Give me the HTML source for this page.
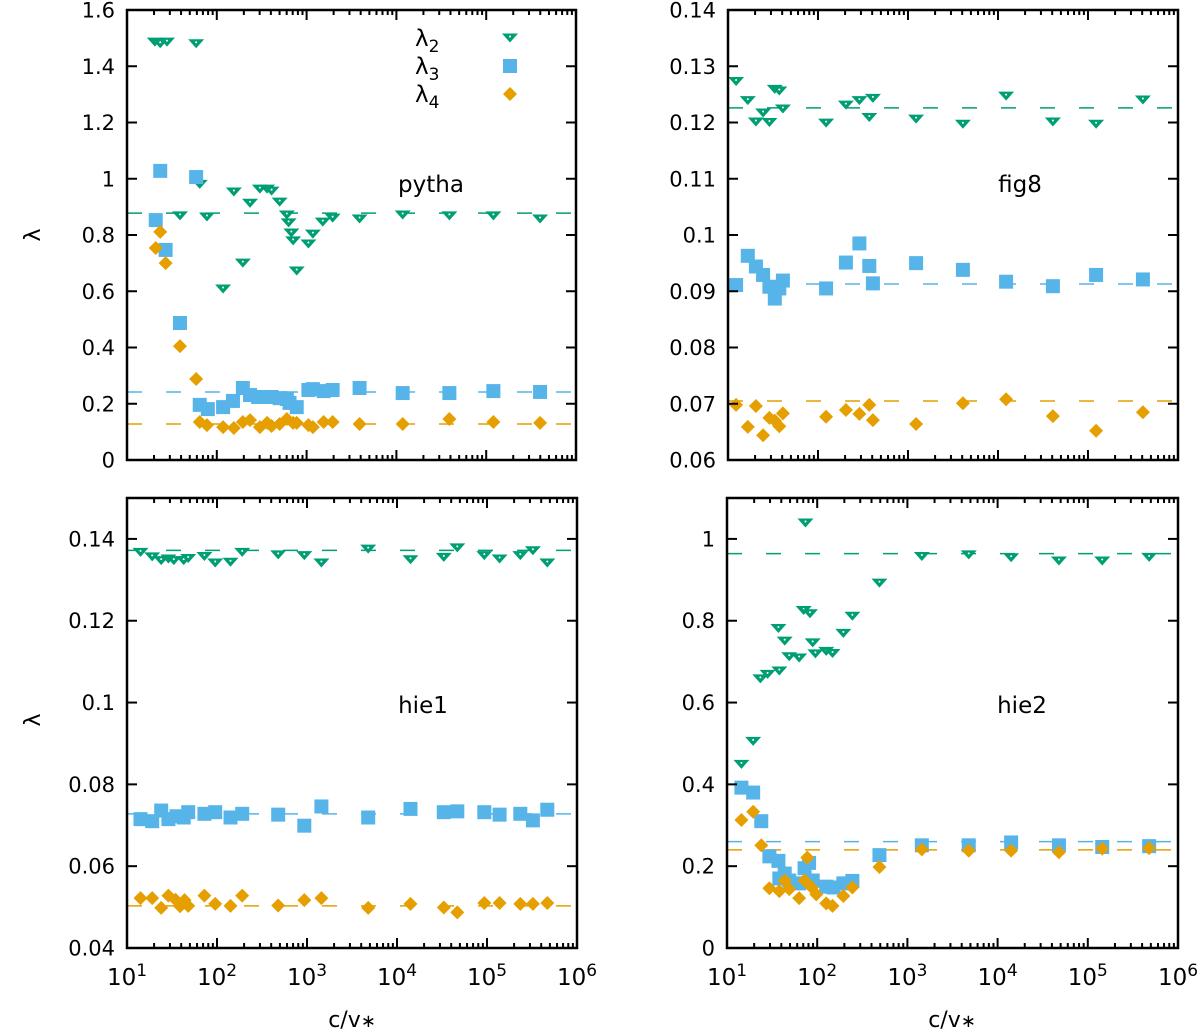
<!DOCTYPE html>
<html><head><meta charset="utf-8"><style>
html,body{margin:0;padding:0;background:#fff;}
svg{display:block;font-family:"DejaVu Sans","Liberation Sans",sans-serif;}
</style></head><body>
<svg id="chart" width="1200" height="1031" viewBox="0 0 1200 1031" xmlns="http://www.w3.org/2000/svg"></svg>
<script>
// ---- data (x as log10(c/v*)) ----
const pythaX2 = [1.31,1.37,1.445,1.77,1.59,1.81,1.89,2.07,2.19,2.29,2.37,2.48,2.56,2.61,2.70,2.78,2.80,2.83,2.85,2.89,3.02,3.07,3.18,3.29,3.59,4.07,4.59,5.08,5.60];
const pythaL2 = [1.486,1.48,1.486,1.48,0.868,0.98,0.864,0.608,0.953,0.70,0.913,0.963,0.963,0.956,0.917,0.871,0.843,0.807,0.779,0.672,0.768,0.803,0.846,0.860,0.857,0.871,0.868,0.868,0.857];
const pythaX3 = [1.37,1.32,1.43,1.59,1.77,1.81,1.90,2.07,2.18,2.29,2.37,2.46,2.56,2.61,2.70,2.78,2.81,2.89,3.02,3.07,3.19,3.29,3.59,4.07,4.59,5.08,5.60];
const pythaL3 = [1.028,0.853,0.747,0.487,1.006,0.196,0.181,0.188,0.21,0.256,0.231,0.224,0.224,0.224,0.22,0.217,0.203,0.188,0.249,0.252,0.245,0.249,0.256,0.238,0.238,0.245,0.242];
const pythaX4 = [1.32,1.37,1.43,1.59,1.77,1.81,1.89,2.07,2.19,2.29,2.37,2.48,2.56,2.61,2.70,2.78,2.85,2.89,3.02,3.07,3.19,3.29,3.59,4.07,4.59,5.08,5.60];
const pythaL4 = [0.754,0.811,0.70,0.405,0.288,0.135,0.124,0.117,0.114,0.135,0.142,0.117,0.132,0.121,0.128,0.146,0.132,0.132,0.124,0.117,0.135,0.135,0.128,0.128,0.146,0.135,0.132];
const pythaRef = [0.878,0.242,0.128];

const fig8X = [1.09,1.22,1.31,1.39,1.46,1.52,1.57,1.61,2.09,2.31,2.46,2.57,2.61,3.09,3.61,4.09,4.61,5.09,5.61];
const fig8L2 = [0.1273,0.1239,0.1201,0.1217,0.1200,0.1259,0.1256,0.1224,0.1199,0.1231,0.1239,0.1209,0.1243,0.1206,0.1197,0.1247,0.1201,0.1197,0.1240];
const fig8L3 = [0.0911,0.0963,0.0944,0.0929,0.0908,0.0887,0.0905,0.0919,0.0905,0.0951,0.0985,0.0945,0.0914,0.0950,0.0938,0.0917,0.0909,0.0929,0.0921];
const fig8L4 = [0.0698,0.0659,0.0696,0.0644,0.0675,0.0670,0.0660,0.0683,0.0677,0.0689,0.0682,0.0698,0.0671,0.0664,0.0701,0.0708,0.0678,0.0652,0.0685];
const fig8Ref = [0.1226,0.0913,0.0705];

const hie1X2 = [1.15,1.28,1.38,1.46,1.52,1.63,1.68,1.86,1.98,2.15,2.28,2.68,2.97,3.16,3.68,4.15,4.52,4.67,4.97,5.14,5.37,5.51,5.67];
const hie1L2 = [0.1367,0.1356,0.1347,0.1351,0.1347,0.1347,0.1352,0.1357,0.1341,0.1343,0.1367,0.1361,0.1359,0.1341,0.1375,0.1349,0.1355,0.1378,0.1359,0.1351,0.1359,0.1371,0.1341];
const hie1X3 = [1.15,1.28,1.38,1.46,1.55,1.63,1.68,1.86,1.98,2.15,2.28,2.68,2.97,3.16,3.68,4.15,4.52,4.67,4.97,5.14,5.37,5.51,5.67];
const hie1L3 = [0.0715,0.0710,0.0736,0.0715,0.0722,0.0719,0.0732,0.0728,0.0732,0.0719,0.0728,0.0726,0.0699,0.0746,0.0719,0.0740,0.0732,0.0734,0.0732,0.0726,0.0728,0.0712,0.0738];
const hie1X4 = [1.15,1.28,1.38,1.46,1.54,1.59,1.64,1.68,1.86,1.98,2.15,2.28,2.68,2.97,3.16,3.68,4.15,4.52,4.67,4.97,5.14,5.37,5.51,5.67];
const hie1L4 = [0.0522,0.0522,0.0498,0.0528,0.0518,0.0502,0.0517,0.0503,0.0528,0.0508,0.0503,0.0528,0.0504,0.0517,0.0522,0.0498,0.0508,0.0499,0.0487,0.0510,0.0510,0.0508,0.0508,0.0510];
const hie1Ref = [0.1372,0.0728,0.0503];

const hie2X2 = [1.16,1.29,1.37,1.45,1.58,1.57,1.64,1.69,1.80,1.87,1.85,1.92,1.95,1.98,2.10,2.17,2.29,2.39,2.69,3.16,3.68,4.15,4.68,5.16,5.68];
const hie2L2 = [0.449,0.505,0.658,0.669,0.677,0.781,0.750,0.712,0.709,1.039,0.825,0.817,0.746,0.719,0.725,0.720,0.769,0.811,0.892,0.957,0.961,0.954,0.946,0.946,0.955];
const hie2X3 = [1.16,1.29,1.38,1.47,1.57,1.64,1.58,1.69,1.80,1.86,1.91,1.95,2.10,2.18,2.29,2.39,2.69,3.16,3.68,4.15,4.68,5.16,5.68];
const hie2L3 = [0.392,0.380,0.310,0.224,0.213,0.182,0.170,0.165,0.158,0.195,0.208,0.165,0.150,0.148,0.158,0.164,0.227,0.251,0.251,0.258,0.251,0.247,0.249];
const hie2X4 = [1.16,1.29,1.38,1.47,1.58,1.64,1.69,1.80,1.86,1.89,1.94,1.99,2.10,2.17,2.29,2.39,2.69,3.16,3.68,4.15,4.68,5.16,5.68];
const hie2L4 = [0.313,0.333,0.251,0.146,0.139,0.165,0.144,0.122,0.165,0.221,0.148,0.131,0.109,0.103,0.127,0.148,0.198,0.241,0.238,0.238,0.234,0.243,0.244];
const hie2Ref = [0.964,0.260,0.240];

const xTickExps = [1,2,3,4,5,6];
const pythaTicks = [0,0.2,0.4,0.6,0.8,1,1.2,1.4,1.6];
const fig8Ticks = [0.06,0.07,0.08,0.09,0.1,0.11,0.12,0.13,0.14];
const hie1Ticks = [0.04,0.06,0.08,0.1,0.12,0.14];
const hie2Ticks = [0,0.2,0.4,0.6,0.8,1];

// ---- drawing ----
const NS = "http://www.w3.org/2000/svg";
const svg = document.getElementById('chart');
const C2 = '#009e73', C3 = '#56b4e9', C4 = '#e69f00';
function mk(tag, attrs, parent){
  const e = document.createElementNS(NS, tag);
  for (const k in attrs) e.setAttribute(k, attrs[k]);
  (parent||svg).appendChild(e);
  return e;
}
function fmt(v){ return String(parseFloat(v.toFixed(4))); }

function triDown(g, x, y){
  const m = mk('polygon', {points:`${x-8},${y-4.5} ${x+8},${y-4.5} ${x},${y+4.5}`, fill:C2}, g);
  
  
  mk('circle', {cx:x, cy:y-1.5, r:1, fill:'#fff'}, g);
}
function square(g, x, y){
  const m = mk('rect', {x:x-7, y:y-7, width:14, height:14, fill:C3}, g);
  
  
}
function diamond(g, x, y){
  const m = mk('polygon', {points:`${x},${y-7} ${x+7},${y} ${x},${y+7} ${x-7},${y}`, fill:C4}, g);
  
  
}

function panel(o){
  const g = mk('g', {});
  
  
  const L=o.l, R=o.r, T=o.t, B=o.b;
  const sx = e => L + (e-1)/5*(R-L);
  const sy = v => B - (v-o.ymin)/(o.ymax-o.ymin)*(B-T);
  const refCols = [C2,C3,C4];
  o.ref.forEach((v,i)=>{
    const ln = mk('line', {x1:L, x2:R, y1:sy(v), y2:sy(v), stroke:refCols[i], 'stroke-width':1.5, 'stroke-dasharray':'15 24'}, g);
    
    
  });
  o.x2.forEach((x,i)=>triDown(g, sx(x), sy(o.l2[i])));
  o.x3.forEach((x,i)=>square(g, sx(x), sy(o.l3[i])));
  o.x4.forEach((x,i)=>diamond(g, sx(x), sy(o.l4[i])));
  const tg = mk('g', {stroke:'#000', 'stroke-width':2}, g);
  xTickExps.forEach(e=>{
    const x = sx(e);
    mk('line', {x1:x, x2:x, y1:B, y2:B-10}, tg);
    mk('line', {x1:x, x2:x, y1:T, y2:T+10}, tg);
    if (e<6) for (let k=2;k<=9;k++){
      const xm = sx(e+Math.log10(k));
      mk('line', {x1:xm, x2:xm, y1:B, y2:B-5}, tg);
      mk('line', {x1:xm, x2:xm, y1:T, y2:T+5}, tg);
    }
    if (o.xlabels){
      const t = mk('text', {x:x, y:B+37, 'font-size':23, 'text-anchor':'middle', fill:'#000', stroke:'none'}, g);
      
      
      t.textContent = '10';
      const s = mk('tspan', {dy:-9, 'font-size':17}, t);
      s.textContent = String(e);
    }
  });
  o.ticks.forEach(v=>{
    const y = sy(v);
    mk('line', {x1:L, x2:L+10, y1:y, y2:y}, tg);
    mk('line', {x1:R, x2:R-10, y1:y, y2:y}, tg);
    const t = mk('text', {x:L-12, y:y+7.5, 'font-size':21, 'text-anchor':'end', fill:'#000'}, g);
    
    
    t.textContent = fmt(v);
  });
  const fr = mk('rect', {x:L, y:T, width:R-L, height:B-T, fill:'none', stroke:'#000', 'stroke-width':2.5}, g);
  
  
  const lab = mk('text', {x:o.lx, y:o.ly, 'font-size':23, 'text-anchor':'middle', fill:'#000'}, g);
  
  
  lab.textContent = o.name;
}

panel({name:'pytha', l:127, r:576, t:10, b:460, ymin:0, ymax:1.6, ticks:pythaTicks,
  x2:pythaX2, l2:pythaL2, x3:pythaX3, l3:pythaL3, x4:pythaX4, l4:pythaL4, ref:pythaRef, lx:431, ly:192});
panel({name:'fig8', l:728, r:1178, t:10, b:460, ymin:0.06, ymax:0.14, ticks:fig8Ticks,
  x2:fig8X, l2:fig8L2, x3:fig8X, l3:fig8L3, x4:fig8X, l4:fig8L4, ref:fig8Ref, lx:1020, ly:192});
panel({name:'hie1', l:127, r:577, t:498, b:948, ymin:0.04, ymax:0.15, ticks:hie1Ticks, xlabels:true,
  x2:hie1X2, l2:hie1L2, x3:hie1X3, l3:hie1L3, x4:hie1X4, l4:hie1L4, ref:hie1Ref, lx:423, ly:713});
panel({name:'hie2', l:727, r:1178, t:498, b:948, ymin:0, ymax:1.1, ticks:hie2Ticks, xlabels:true,
  x2:hie2X2, l2:hie2L2, x3:hie2X3, l3:hie2L3, x4:hie2X4, l4:hie2L4, ref:hie2Ref, lx:1022, ly:713});

[235, 720].forEach(y=>{
  const t = mk('text', {x:33, y:y, 'font-size':22, 'text-anchor':'middle', transform:`rotate(-90 33 ${y})`, dy:7, fill:'#000'});
  
  
  t.textContent = 'λ';
});
[352, 952].forEach(x=>{
  const t = mk('text', {x:x, y:1027, 'font-size':22, 'text-anchor':'middle', fill:'#000'});
  
  
  t.textContent = 'c/v';
  const s = mk('tspan', {'font-size':18}, t);
  s.textContent = '∗';
});
const lg = mk('g', {});


[['2',38],['3',66],['4',94]].forEach(([n,y],i)=>{
  const t = mk('text', {x:415, y:y+8, 'font-size':23, fill:'#000'}, lg);
  
  
  t.textContent = 'λ';
  const s = mk('tspan', {dy:6, 'font-size':17}, t);
  s.textContent = n;
  if (i===0) triDown(lg, 510, y);
  else if (i===1) square(lg, 510, y);
  else diamond(lg, 510, y);
});
</script>
</body></html>
